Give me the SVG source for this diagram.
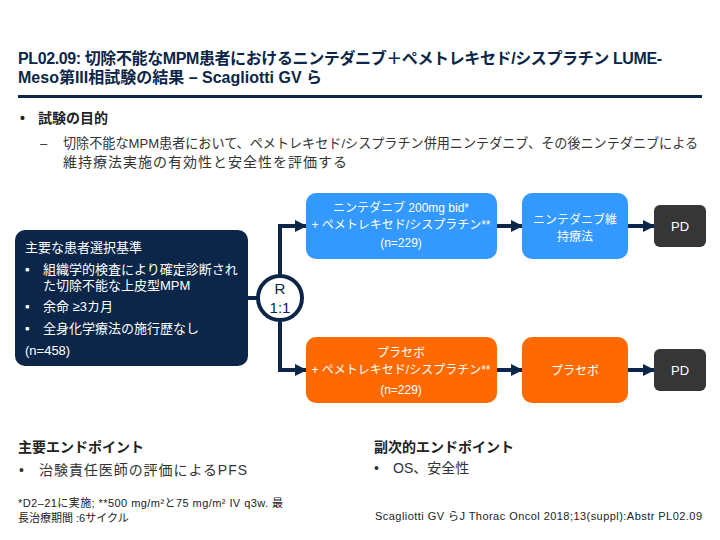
<svg xmlns="http://www.w3.org/2000/svg" width="720" height="540" viewBox="0 0 720 540">
<defs>
<style>
text{font-family:"Liberation Sans","Noto Sans CJK JP",sans-serif;}
.title{font-size:16px;font-weight:bold;fill:#0b2648;}
.h{font-size:14px;font-weight:bold;fill:#222;}
.body{font-size:13px;fill:#333;}
.w{fill:#fff;font-size:12px;}
.wb{fill:#fff;font-size:13px;}
.small{font-size:11px;fill:#222;}
.conn{stroke:#0b2648;stroke-width:4;fill:none;}
</style>
<marker id="ah" markerUnits="userSpaceOnUse" markerWidth="12" markerHeight="12" viewBox="0 0 12 12" refX="11" refY="6" orient="auto">
<path d="M0,0 L12,6 L0,12 Z" fill="#0b2648"/>
</marker>
</defs>
<rect width="720" height="540" fill="#fff"/>
<g id="header">
<text class="title" x="18" y="64" textLength="644">PL02.09: 切除不能なMPM患者におけるニンテダニブ＋ペメトレキセド/シスプラチン LUME-</text>
<text class="title" x="18" y="83">Meso第III相試験の結果 – Scagliotti GV ら</text>
<rect x="18" y="95" width="684" height="3" fill="#0b2648"/>
</g>
<g id="objective">
<text class="h" x="20" y="123">•</text>
<text class="h" x="38" y="123">試験の目的</text>
<text class="body" x="40" y="148">–</text>
<text class="body" x="63" y="148" style="font-size:13.5px" textLength="635" lengthAdjust="spacingAndGlyphs">切除不能なMPM患者において、ペメトレキセド/シスプラチン併用ニンテダニブ、その後ニンテダニブによる</text>
<text class="body" x="63" y="167" style="font-size:14px" textLength="284">維持療法実施の有効性と安全性を評価する</text>
</g>
<g id="criteria">
<rect x="15" y="230" width="233" height="136" rx="10" fill="#0b2648"/>
<text class="wb" x="25" y="252">主要な患者選択基準</text>
<text class="wb" x="25" y="274">▪</text>
<text class="wb" x="43" y="274">組織学的検査により確定診断され</text>
<text class="wb" x="43" y="290">た切除不能な上皮型MPM</text>
<text class="wb" x="25" y="311">▪</text>
<text class="wb" x="43" y="311">余命 ≥3カ月</text>
<text class="wb" x="25" y="333">▪</text>
<text class="wb" x="43" y="333">全身化学療法の施行歴なし</text>
<text class="wb" x="25" y="355">(n=458)</text>
</g>
<g id="connectors">
<line class="conn" x1="248" y1="298" x2="258" y2="298"/>
<path class="conn" d="M280,276 V226 H306" marker-end="url(#ah)"/>
<path class="conn" d="M280,320 V370 H306" marker-end="url(#ah)"/>
<line class="conn" x1="497" y1="226" x2="522" y2="226" marker-end="url(#ah)"/>
<line class="conn" x1="628" y1="226" x2="654" y2="226" marker-end="url(#ah)"/>
<line class="conn" x1="497" y1="370" x2="522" y2="370" marker-end="url(#ah)"/>
<line class="conn" x1="628" y1="370" x2="654" y2="370" marker-end="url(#ah)"/>
</g>
<g id="randomize">
<circle cx="280" cy="298" r="22" fill="#fff" stroke="#0b2648" stroke-width="4"/>
<text x="280" y="294" text-anchor="middle" font-size="15" fill="#0b2648">R</text>
<text x="280" y="313" text-anchor="middle" font-size="15" fill="#0b2648">1:1</text>
</g>
<g id="arm1">
<rect x="306" y="193" width="191" height="66" rx="10" fill="#3399ff"/>
<text class="w" x="401" y="212" text-anchor="middle">ニンテダニブ 200mg bid*</text>
<text class="w" x="401" y="229" text-anchor="middle">+ ペメトレキセド/シスプラチン**</text>
<text class="w" x="401" y="247" text-anchor="middle">(n=229)</text>
</g>
<g id="maint1">
<rect x="522" y="193" width="106" height="66" rx="10" fill="#3399ff"/>
<text class="w" x="575" y="224" text-anchor="middle">ニンテダニブ維</text>
<text class="w" x="575" y="241" text-anchor="middle">持療法</text>
</g>
<g id="pd1">
<rect x="654" y="205" width="52" height="42" rx="6" fill="#363636"/>
<text class="w" x="680" y="231" text-anchor="middle" style="font-size:13px">PD</text>
</g>
<g id="arm2">
<rect x="306" y="337" width="191" height="66" rx="10" fill="#ff6a00"/>
<text class="w" x="401" y="357" text-anchor="middle">プラセボ</text>
<text class="w" x="401" y="374" text-anchor="middle">+ ペメトレキセド/シスプラチン**</text>
<text class="w" x="401" y="394" text-anchor="middle">(n=229)</text>
</g>
<g id="maint2">
<rect x="522" y="337" width="106" height="66" rx="10" fill="#ff6a00"/>
<text class="w" x="575" y="375" text-anchor="middle">プラセボ</text>
</g>
<g id="pd2">
<rect x="654" y="349" width="52" height="42" rx="6" fill="#363636"/>
<text class="w" x="680" y="375" text-anchor="middle" style="font-size:13px">PD</text>
</g>
<g id="endpoints">
<text class="h" x="18" y="452">主要エンドポイント</text>
<text class="body" x="19" y="475" style="font-size:14px">•</text>
<text class="body" x="39" y="475" style="font-size:14px" textLength="208">治験責任医師の評価によるPFS</text>
<text class="h" x="374" y="452">副次的エンドポイント</text>
<text class="body" x="374" y="473" style="font-size:14px">•</text>
<text class="body" x="393" y="473" style="font-size:14px">OS、安全性</text>
</g>
<g id="footer">
<text class="small" x="18" y="507" textLength="265">*D2–21に実施; **500 mg/m²と75 mg/m² IV q3w. 最</text>
<text class="small" x="18" y="522">長治療期間 :6サイクル</text>
<text class="small" x="375" y="520" textLength="327">Scagliotti GV らJ Thorac Oncol 2018;13(suppl):Abstr PL02.09</text>
</g>
</svg>
